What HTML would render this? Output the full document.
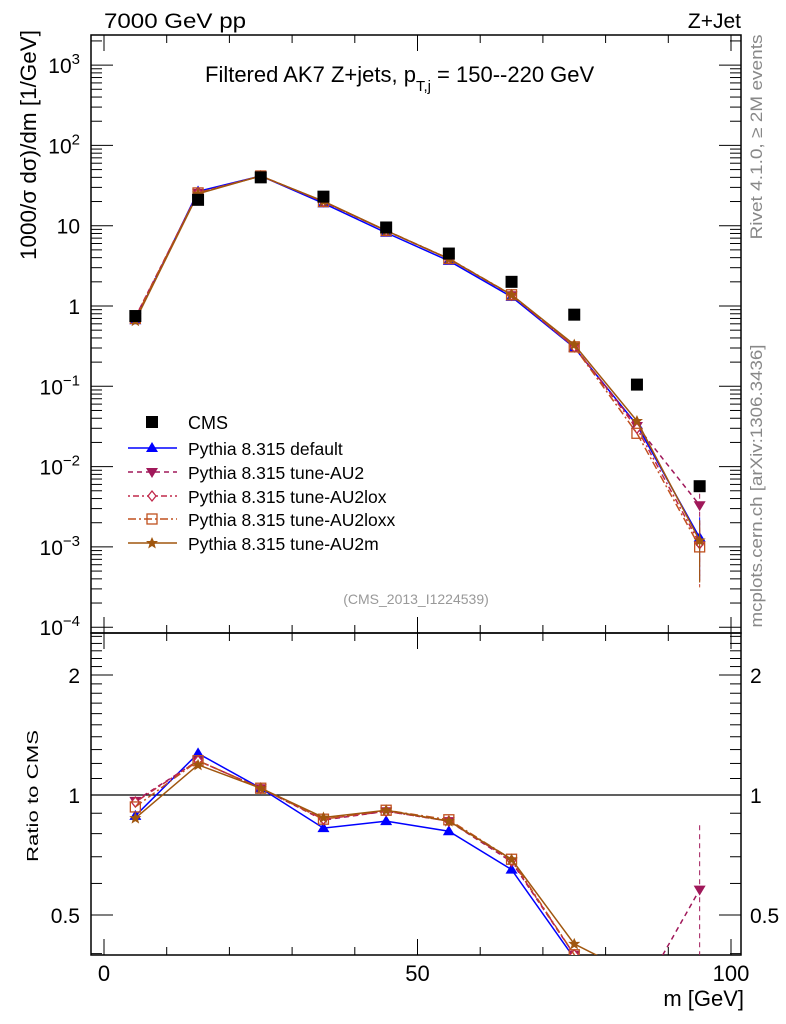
<!DOCTYPE html>
<html><head><meta charset="utf-8"><style>
html,body{margin:0;padding:0;background:#fff;overflow:hidden;width:786px;height:1024px}
svg{display:block;font-family:"Liberation Sans","DejaVu Sans",sans-serif}
</style></head><body>
<svg id="chart" width="786" height="1024" viewBox="0 0 786 1024">
<rect width="786" height="1024" fill="#fff"/>
<text x="104" y="28" font-size="21" textLength="142" lengthAdjust="spacingAndGlyphs">7000 GeV pp</text>
<text x="741" y="28" font-size="21" text-anchor="end">Z+Jet</text>
<text x="205" y="82" font-size="22">Filtered AK7 Z+jets, p<tspan font-size="15" dy="9">T,j</tspan><tspan dy="-9"> = 150--220 GeV</tspan></text>
<text x="416" y="604" font-size="14" fill="#999" text-anchor="middle">(CMS_2013_I1224539)</text>
<text transform="translate(762,137) rotate(-90)" font-size="17" fill="#888" text-anchor="middle" textLength="205" lengthAdjust="spacingAndGlyphs">Rivet 4.1.0, ≥ 2M events</text>
<text transform="translate(762,486) rotate(-90)" font-size="17" fill="#888" text-anchor="middle" textLength="283" lengthAdjust="spacingAndGlyphs">mcplots.cern.ch [arXiv:1306.3436]</text>
<text transform="translate(36,145) rotate(-90)" font-size="22" text-anchor="middle" textLength="230" lengthAdjust="spacingAndGlyphs">1000/σ   dσ)/dm [1/GeV]</text>
<text transform="translate(38,796) rotate(-90)" font-size="16" text-anchor="middle" textLength="132" lengthAdjust="spacingAndGlyphs">Ratio to CMS</text>
<text x="744" y="1006" font-size="22" text-anchor="end">m [GeV]</text>
<g id="axes"></g>
<g id="marks"></g>
<g id="legend"></g>
</svg>
<script>
const mass = [5,15,25,35,45,55,65,75,85,95];
const cms = [0.75,21,40,23,9.5,4.5,2.0,0.78,0.105,0.0057];
const pyDefault = [0.665,26.7,41.6,19.0,8.17,3.65,1.30,0.304,0.033,0.0013];
const pyAU2 = [0.725,25.6,41.6,19.9,8.65,3.87,1.36,0.31,0.032,0.0033];
const pyAU2lox = [0.72,25.6,41.6,20.0,8.65,3.87,1.37,0.31,0.030,0.0011];
const pyAU2loxx = [0.70,25.6,41.6,20.0,8.7,3.9,1.38,0.31,0.026,0.0010];
const pyAU2m = [0.656,25.0,41.6,20.2,8.7,3.87,1.38,0.33,0.037,0.0012];
const xTicks = [0,50,100];
const yTicksMain = [1e3,1e2,10,1,0.1,0.01,0.001,0.0001];
const yTickLabels = ["10^3","10^2","10","1","10^-1","10^-2","10^-3","10^-4"];
const ratioTicks = [2,1,0.5];
const seriesNames = ["Pythia 8.315 default","Pythia 8.315 tune-AU2","Pythia 8.315 tune-AU2lox","Pythia 8.315 tune-AU2loxx","Pythia 8.315 tune-AU2m"];

const NS="http://www.w3.org/2000/svg";
const L=91,R=741,T=35,MB=633,RB=955;
const xs=m=>104+6.27*m;
const ys=v=>306-80.3*Math.log10(v);
const yr=r=>795-120*Math.log2(r);
function mk(tag,attrs,parent){const e=document.createElementNS(NS,tag);for(const k in attrs)e.setAttribute(k,attrs[k]);parent.appendChild(e);return e;}
const axes=document.getElementById('axes'),marks=document.getElementById('marks'),leg=document.getElementById('legend');

let f1=mk('rect',{x:L,y:T,width:R-L,height:MB-T,fill:'none',stroke:'#000','stroke-width':1.5},axes);


let f2=mk('rect',{x:L,y:MB,width:R-L,height:RB-MB,fill:'none',stroke:'#000','stroke-width':1.5},axes);



for(let m=0;m<=100;m+=10){
  const x=xs(m),len=(m%50===0)?16:8;
  [[T,1],[MB,-1],[MB,1],[RB,-1]].forEach(([y,d])=>{mk('line',{x1:x,x2:x,y1:y,y2:y+d*len,stroke:'#000','stroke-width':1},axes);});
}
xTicks.forEach(m=>{
  const t=mk('text',{x:xs(m),y:RB+26,'font-size':22,'text-anchor':'middle'},axes);
  t.textContent=m;
  
  
});
for(let e=-4;e<=3;e++){
  for(let k=1;k<10;k++){
    const v=k*Math.pow(10,e),y=ys(v);
    if(y<T||y>MB)continue;
    const len=k===1?22:11;
    mk('line',{x1:L,x2:L+len,y1:y,y2:y,stroke:'#000'},axes);
    mk('line',{x1:R,x2:R-len,y1:y,y2:y,stroke:'#000'},axes);
  }
}
yTicksMain.forEach((v,i)=>{
  const lab=yTickLabels[i],t=mk('text',{x:80,y:ys(v)+8,'font-size':21,'text-anchor':'end'},axes);
  
  
  if(lab.includes('^')){const [b,p]=lab.split('^');t.textContent=b;const s=mk('tspan',{dy:-9,'font-size':15},t);s.textContent=p.replace('-','−');}
  else t.textContent=lab;
});
for(let k=4;k<=25;k++){
  const r=k/10,y=yr(r);
  if(y<MB||y>RB)continue;
  const len=(r===0.5||r===1||r===2)?22:11;
  mk('line',{x1:L,x2:L+len,y1:y,y2:y,stroke:'#000'},axes);
  mk('line',{x1:R,x2:R-len,y1:y,y2:y,stroke:'#000'},axes);
}
ratioTicks.forEach(r=>{
  [[80,'end'],[750,'start']].forEach(([x,a])=>{
    const t=mk('text',{x:x,y:yr(r)+8,'font-size':21,'text-anchor':a},axes);t.textContent=r;
    
    
  });
});
mk('line',{x1:L,x2:R,y1:yr(1),y2:yr(1),stroke:'#000','stroke-width':1.3},axes);

const defs=mk('defs',{},marks);
const c1=mk('clipPath',{id:'cm'},defs);mk('rect',{x:L,y:T,width:R-L,height:MB-T},c1);
const c2=mk('clipPath',{id:'cr'},defs);mk('rect',{x:L,y:MB,width:R-L,height:RB-MB},c2);
const gm=mk('g',{'clip-path':'url(#cm)'},marks),gr=mk('g',{'clip-path':'url(#cr)'},marks);

function marker(type,x,y,col,g){
  let e;
  if(type==='tri') e=mk('polygon',{points:`${x},${y-6} ${x-6},${y+4} ${x+6},${y+4}`,fill:col},g);
  else if(type==='tridown') e=mk('polygon',{points:`${x},${y+6} ${x-6},${y-4} ${x+6},${y-4}`,fill:col},g);
  else if(type==='diamond') e=mk('polygon',{points:`${x},${y-5} ${x+4},${y} ${x},${y+5} ${x-4},${y}`,fill:'#fff',stroke:col,'stroke-width':1.3},g);
  else if(type==='square') e=mk('rect',{x:x-5,y:y-5,width:10,height:10,fill:'none',stroke:col,'stroke-width':1.3},g);
  else if(type==='star') e=mk('polygon',{points:`${x},${y-6} ${x+1.8},${y-2} ${x+6},${y-2} ${x+2.6},${y+1} ${x+3.8},${y+5.5} ${x},${y+3} ${x-3.8},${y+5.5} ${x-2.6},${y+1} ${x-6},${y-2} ${x-1.8},${y-2}`,fill:col},g);
  else if(type==='sq') e=mk('rect',{x:x-6,y:y-6,width:12,height:12,fill:col},g);
  return e;
}
const series=[
  {vals:pyDefault,col:'#0000ff',dash:'',m:'tri',name:'series-default'},
  {vals:pyAU2,col:'#a0185a',dash:'5,4',m:'tridown',name:'series-au2'},
  {vals:pyAU2lox,col:'#c0284a',dash:'2,3,6,3',m:'diamond',name:'series-au2lox'},
  {vals:pyAU2loxx,col:'#c0501e',dash:'8,3,2,3',m:'square',name:'series-au2loxx'},
  {vals:pyAU2m,col:'#a0560e',dash:'',m:'star',name:'series-au2m'}
];
series.forEach(s=>{
  const pm=mass.map((m,i)=>xs(m)+','+ys(s.vals[i])).join(' ');
  const l1=mk('polyline',{points:pm,fill:'none',stroke:s.col,'stroke-width':1.5,'stroke-dasharray':s.dash},gm);
  
  
  const pr=mass.map((m,i)=>xs(m)+','+yr(s.vals[i]/cms[i])).join(' ');
  const l2=mk('polyline',{points:pr,fill:'none',stroke:s.col,'stroke-width':1.5,'stroke-dasharray':s.dash},gr);
  
  
  mass.forEach((m,i)=>{
    const last=i===mass.length-1;
    if(last){
      const v=s.vals[i];
      mk('line',{x1:xs(m),x2:xs(m),y1:ys(v*1.8),y2:ys(v*0.3),stroke:s.col,'stroke-dasharray':s.dash},gm);
      const r=v/cms[i];
      mk('line',{x1:xs(m),x2:xs(m),y1:yr(r*1.45),y2:yr(r*0.4),stroke:s.col,'stroke-dasharray':s.dash},gr);
    }
    const p=marker(s.m,xs(m),ys(s.vals[i]),s.col,gm);
    
    
    const q=marker(s.m,xs(m),yr(s.vals[i]/cms[i]),s.col,gr);
    
    
  });
});
mass.forEach((m,i)=>{
  const p=marker('sq',xs(m),ys(cms[i]),'#000',gm);
  
  
});

const ly=[422,448,472,496,519,543];
const lm=marker('sq',152,ly[0],'#000',leg);


const lt=mk('text',{x:188,y:ly[0]+7,'font-size':18},leg);lt.textContent='CMS';


series.forEach((s,i)=>{
  const y=ly[i+1];
  mk('line',{x1:128,x2:177,y1:y,y2:y,stroke:s.col,'stroke-width':1.5,'stroke-dasharray':s.dash},leg);
  marker(s.m,152,y,s.col,leg);
  const t=mk('text',{x:188,y:y+7,'font-size':17.5},leg);t.textContent=seriesNames[i];
  
  
});
</script>
</body></html>
